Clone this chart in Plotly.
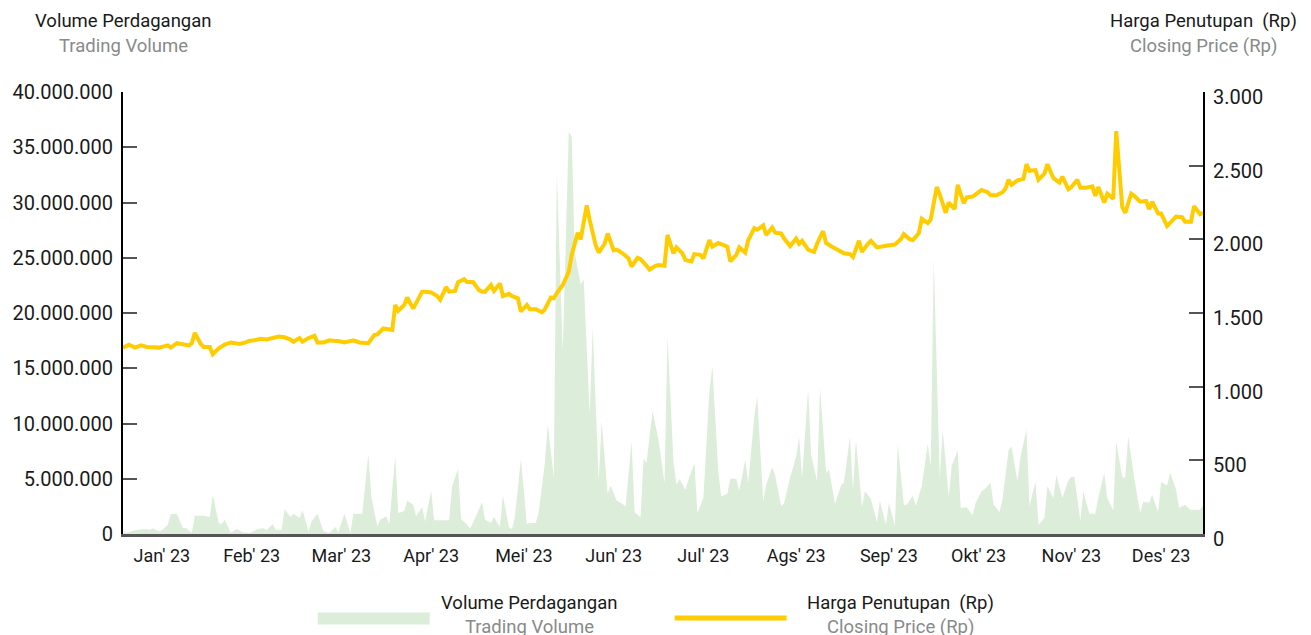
import plotly.graph_objects as go

# ---------------- data ----------------
price_dates = [
    "2023-01-02","2023-01-04","2023-01-06","2023-01-08","2023-01-10","2023-01-12","2023-01-14","2023-01-17",
    "2023-01-18","2023-01-20","2023-01-22","2023-01-24","2023-01-25","2023-01-26","2023-01-28","2023-01-29",
    "2023-01-31","2023-02-01","2023-02-03","2023-02-05","2023-02-07","2023-02-08","2023-02-10","2023-02-12",
    "2023-02-13","2023-02-15","2023-02-17","2023-02-19","2023-02-21","2023-02-23","2023-02-25","2023-02-27",
    "2023-02-28","2023-03-02","2023-03-03","2023-03-05","2023-03-07","2023-03-08","2023-03-10","2023-03-12",
    "2023-03-14","2023-03-15","2023-03-17","2023-03-20","2023-03-22","2023-03-25","2023-03-27","2023-03-28",
    "2023-03-30","2023-03-31","2023-04-02","2023-04-03","2023-04-04","2023-04-06","2023-04-07","2023-04-09",
    "2023-04-11","2023-04-12","2023-04-13","2023-04-15","2023-04-17","2023-04-18","2023-04-20","2023-04-21",
    "2023-04-23","2023-04-24","2023-04-26","2023-04-27","2023-04-29","2023-05-01","2023-05-02","2023-05-03",
    "2023-05-05","2023-05-06","2023-05-08","2023-05-09","2023-05-11","2023-05-12","2023-05-14","2023-05-15",
    "2023-05-17","2023-05-18","2023-05-20","2023-05-22","2023-05-23","2023-05-25","2023-05-26","2023-05-27",
    "2023-05-29","2023-05-31","2023-06-01","2023-06-03","2023-06-04","2023-06-06","2023-06-07","2023-06-09",
    "2023-06-10","2023-06-12","2023-06-13","2023-06-15","2023-06-16","2023-06-18","2023-06-20","2023-06-21",
    "2023-06-23","2023-06-24","2023-06-26","2023-06-27","2023-06-29","2023-06-30","2023-07-02","2023-07-03",
    "2023-07-05","2023-07-06","2023-07-08","2023-07-09","2023-07-11","2023-07-12","2023-07-14","2023-07-15",
    "2023-07-17","2023-07-18","2023-07-20","2023-07-22","2023-07-23","2023-07-24","2023-07-26","2023-07-27",
    "2023-07-29","2023-07-30","2023-08-01","2023-08-02","2023-08-04","2023-08-05","2023-08-07","2023-08-08",
    "2023-08-10","2023-08-11","2023-08-13","2023-08-15","2023-08-16","2023-08-17","2023-08-19","2023-08-21",
    "2023-08-22","2023-08-24","2023-08-25","2023-08-27","2023-08-28","2023-08-30","2023-08-31","2023-09-02",
    "2023-09-03","2023-09-05","2023-09-06","2023-09-08","2023-09-09","2023-09-11","2023-09-12","2023-09-14",
    "2023-09-15","2023-09-17","2023-09-19","2023-09-20","2023-09-22","2023-09-23","2023-09-25","2023-09-26",
    "2023-09-28","2023-09-29","2023-10-01","2023-10-02","2023-10-04","2023-10-05","2023-10-07","2023-10-08",
    "2023-10-10","2023-10-11","2023-10-13","2023-10-14","2023-10-16","2023-10-18","2023-10-19","2023-10-21",
    "2023-10-23","2023-10-24","2023-10-25","2023-10-26","2023-10-28","2023-10-30","2023-10-31","2023-11-01",
    "2023-11-03","2023-11-04","2023-11-06","2023-11-07","2023-11-09","2023-11-11","2023-11-12","2023-11-14",
    "2023-11-15","2023-11-17","2023-11-18","2023-11-20","2023-11-22","2023-11-23","2023-11-24","2023-11-26",
    "2023-11-27","2023-11-29","2023-11-30","2023-12-02","2023-12-03","2023-12-05","2023-12-06","2023-12-08",
    "2023-12-10","2023-12-11","2023-12-12","2023-12-14","2023-12-15","2023-12-17","2023-12-18","2023-12-20",
    "2023-12-22","2023-12-23","2023-12-25","2023-12-26","2023-12-28","2023-12-29",
]
price_values = [
    1265,1285,1265,1280,1270,1270,1265,1280,
    1265,1295,1285,1280,1295,1365,1290,1270,
    1270,1220,1260,1285,1300,1295,1290,1300,
    1310,1315,1325,1320,1330,1340,1335,1320,
    1305,1330,1305,1330,1345,1300,1300,1315,
    1310,1310,1300,1315,1300,1295,1350,1355,
    1395,1390,1385,1555,1515,1555,1605,1530,
    1600,1645,1645,1640,1615,1590,1675,1645,
    1650,1710,1730,1710,1710,1655,1645,1645,
    1690,1650,1700,1615,1630,1615,1600,1510,
    1555,1525,1525,1505,1525,1605,1600,1635,
    1690,1780,1895,2045,2000,2230,2130,1960,
    1910,1970,2040,1925,1930,1905,1870,1815,
    1875,1865,1820,1795,1820,1825,1820,2030,
    1905,1945,1905,1860,1850,1900,1895,1870,
    1995,1950,1975,1960,1950,1850,1895,1945,
    1910,1995,2075,2065,2095,2030,2080,2045,
    2040,2005,1955,2005,1970,1990,1930,1915,
    1970,2055,1975,1950,1940,1920,1905,1900,
    1880,1990,1915,1970,1990,1945,1950,1960,
    1960,1965,2000,2035,2000,1995,2040,2140,
    2110,2135,2355,2305,2180,2250,2205,2370,
    2245,2285,2290,2305,2335,2320,2300,2300,
    2320,2345,2405,2370,2400,2410,2510,2465,
    2470,2405,2445,2510,2415,2385,2425,2340,
    2355,2405,2350,2350,2360,2295,2355,2250,
    2310,2275,2735,2220,2180,2310,2295,2255,
    2260,2205,2255,2175,2175,2090,2110,2155,
    2150,2120,2120,2225,2170,2180,
]

volume_dates = [
    "2023-01-02","2023-01-04","2023-01-06","2023-01-08","2023-01-09","2023-01-11","2023-01-12","2023-01-14",
    "2023-01-15","2023-01-17","2023-01-18","2023-01-20","2023-01-22","2023-01-23","2023-01-25","2023-01-26",
    "2023-01-28","2023-01-29","2023-01-31","2023-02-01","2023-02-03","2023-02-04","2023-02-05","2023-02-07",
    "2023-02-09","2023-02-11","2023-02-13","2023-02-14","2023-02-16","2023-02-18","2023-02-19","2023-02-21",
    "2023-02-22","2023-02-24","2023-02-25","2023-02-27","2023-02-28","2023-03-02","2023-03-03","2023-03-05",
    "2023-03-06","2023-03-08","2023-03-10","2023-03-12","2023-03-14","2023-03-15","2023-03-17","2023-03-19",
    "2023-03-20","2023-03-23","2023-03-25","2023-03-26","2023-03-28","2023-03-29","2023-03-31","2023-04-01",
    "2023-04-03","2023-04-04","2023-04-06","2023-04-07","2023-04-09","2023-04-10","2023-04-12","2023-04-13",
    "2023-04-15","2023-04-16","2023-04-21","2023-04-22","2023-04-24","2023-04-25","2023-04-27","2023-04-28",
    "2023-04-30","2023-05-02","2023-05-03","2023-05-05","2023-05-06","2023-05-08","2023-05-09","2023-05-11",
    "2023-05-12","2023-05-13","2023-05-15","2023-05-17","2023-05-18","2023-05-20","2023-05-21","2023-05-23",
    "2023-05-24","2023-05-26","2023-05-27","2023-05-29","2023-05-31","2023-06-01","2023-06-02","2023-06-04",
    "2023-06-05","2023-06-07","2023-06-08","2023-06-10","2023-06-11","2023-06-13","2023-06-14","2023-06-16",
    "2023-06-18","2023-06-19","2023-06-21","2023-06-22","2023-06-24","2023-06-25","2023-06-26","2023-06-28",
    "2023-06-30","2023-07-02","2023-07-03","2023-07-05","2023-07-06","2023-07-07","2023-07-09","2023-07-10",
    "2023-07-12","2023-07-13","2023-07-15","2023-07-17","2023-07-18","2023-07-20","2023-07-21","2023-07-23",
    "2023-07-24","2023-07-26","2023-07-27","2023-07-29","2023-07-30","2023-08-01","2023-08-02","2023-08-04",
    "2023-08-05","2023-08-07","2023-08-08","2023-08-10","2023-08-11","2023-08-13","2023-08-15","2023-08-16",
    "2023-08-17","2023-08-19","2023-08-20","2023-08-22","2023-08-23","2023-08-25","2023-08-26","2023-08-28",
    "2023-08-30","2023-08-31","2023-09-02","2023-09-03","2023-09-04","2023-09-06","2023-09-07","2023-09-09",
    "2023-09-11","2023-09-12","2023-09-14","2023-09-15","2023-09-17","2023-09-18","2023-09-20","2023-09-21",
    "2023-09-23","2023-09-24","2023-09-26","2023-09-28","2023-09-29","2023-09-30","2023-10-02","2023-10-03",
    "2023-10-05","2023-10-06","2023-10-08","2023-10-09","2023-10-11","2023-10-13","2023-10-14","2023-10-16",
    "2023-10-17","2023-10-19","2023-10-20","2023-10-22","2023-10-23","2023-10-25","2023-10-26","2023-10-28",
    "2023-10-29","2023-10-31","2023-11-01","2023-11-03","2023-11-04","2023-11-06","2023-11-07","2023-11-09",
    "2023-11-10","2023-11-12","2023-11-14","2023-11-15","2023-11-16","2023-11-18","2023-11-19","2023-11-21",
    "2023-11-23","2023-11-24","2023-11-26","2023-11-27","2023-11-29","2023-11-30","2023-12-02","2023-12-03",
    "2023-12-04","2023-12-06","2023-12-08","2023-12-09","2023-12-11","2023-12-12","2023-12-14","2023-12-15",
    "2023-12-17","2023-12-18","2023-12-20","2023-12-21","2023-12-23","2023-12-25","2023-12-26","2023-12-28",
    "2023-12-29",
]
volume_values = [
    120000,150000,330000,390000,450000,390000,510000,240000,
    330000,840000,1810000,1840000,540000,540000,90000,1660000,
    1690000,1660000,1540000,3550000,990000,900000,1300000,90000,
    450000,150000,90000,150000,450000,510000,330000,900000,
    390000,330000,2260000,1510000,1840000,1450000,2140000,240000,
    1140000,1840000,240000,90000,630000,150000,1840000,90000,
    1840000,1840000,7230000,3400000,690000,1300000,1600000,900000,
    7110000,1900000,2050000,3040000,2650000,1600000,2440000,1140000,
    3920000,1240000,1240000,4310000,5900000,1360000,840000,480000,
    1600000,2890000,1300000,990000,1540000,630000,3490000,600000,
    450000,1540000,6780000,900000,990000,990000,2050000,6420000,
    9880000,5120000,32800000,16500000,36400000,35900000,25400000,22600000,
    23000000,10800000,18700000,4850000,10200000,3610000,4370000,3040000,
    2710000,2500000,8370000,1960000,1510000,6810000,6420000,11100000,
    8530000,4610000,17900000,6570000,4460000,4970000,4010000,4910000,
    6420000,1900000,3250000,12900000,15200000,5510000,3400000,3650000,
    5000000,5000000,3920000,6720000,4610000,10600000,12400000,2950000,
    4460000,6030000,5270000,2500000,2800000,5120000,7020000,8830000,
    5060000,13100000,7170000,4760000,13300000,5510000,5810000,2710000,
    4400000,4670000,8830000,4010000,8530000,2410000,3860000,3160000,
    1050000,3010000,840000,2800000,750000,8070000,2650000,2650000,
    3460000,2560000,4310000,8160000,6120000,24900000,5060000,9430000,
    3400000,6180000,7560000,2350000,2410000,1690000,2800000,3860000,
    4070000,4610000,2650000,1990000,3160000,7560000,7920000,4760000,
    7020000,9430000,2500000,4760000,840000,1450000,4310000,3250000,
    5360000,3250000,4850000,5150000,5150000,1210000,3860000,1840000,
    1840000,3250000,5510000,3250000,2140000,8310000,5150000,5060000,
    8830000,5060000,1900000,2890000,2860000,3550000,1990000,4700000,
    4400000,5570000,4010000,2350000,2650000,2140000,2200000,2200000,
    2590000,
]

month_tick_dates = [
    "2023-01-15","2023-02-14","2023-03-16","2023-04-15","2023-05-16","2023-06-15",
    "2023-07-15","2023-08-15","2023-09-15","2023-10-15","2023-11-15","2023-12-15",
]
month_tick_labels = [
    "Jan' 23","Feb' 23","Mar' 23","Apr' 23","Mei' 23","Jun' 23",
    "Jul' 23","Ags' 23","Sep' 23","Okt' 23","Nov' 23","Des' 23",
]

volume_name = "Volume Perdagangan"
volume_name_en = "Trading Volume"
price_name = "Harga Penutupan\u00a0 (Rp)"
price_name_en = "Closing Price (Rp)"

# ---------------- styling ----------------
GREEN = "#DCEDDA"
GOLD = "#FFCC00"
DARK = "#1a1a1a"
GREY_TXT = "#8a8a8a"
FONT = "Roboto"

fig = go.Figure()
fig.add_trace(go.Scatter(
    x=volume_dates, y=volume_values, name=volume_name, mode="lines",
    fill="tozeroy", fillcolor=GREEN, line=dict(width=0, color=GREEN),
    yaxis="y", showlegend=False,
))
fig.add_trace(go.Scatter(
    x=price_dates, y=price_values, name=price_name, mode="lines",
    line=dict(width=4, color=GOLD), yaxis="y2", showlegend=False,
))

fig.update_layout(
    width=1311, height=635,
    margin=dict(l=115, r=116, t=84, b=109, autoexpand=False),
    paper_bgcolor="white", plot_bgcolor="white",
    font=dict(family=FONT, size=18, color=DARK),
    separators=",.",
    xaxis=dict(
        type="date", range=["2023-01-02", "2023-12-29"], automargin=False,
        tickmode="array", tickvals=month_tick_dates, ticktext=month_tick_labels,
        showgrid=False, zeroline=False, showline=True, linecolor="#555555", linewidth=2.5,
        ticks="", tickfont=dict(size=18, color=DARK), ticklabelstandoff=4,
    ),
    yaxis=dict(
        range=[0, 40000000], dtick=5000000, tickformat=",d", automargin=False,
        showgrid=False, zeroline=False, showline=True, linecolor="black", linewidth=2,
        ticks="inside", ticklen=14, tickwidth=2, tickcolor="#555555",
        tickfont=dict(size=20, color=DARK), ticklabelstandoff=4,
    ),
    yaxis2=dict(
        range=[0, 3000], dtick=500, tickformat=",d", overlaying="y", side="right", automargin=False,
        showgrid=False, zeroline=False, showline=True, linecolor="black", linewidth=2,
        ticks="inside", ticklen=14, tickwidth=2, tickcolor="#555555",
        tickfont=dict(size=20, color=DARK), ticklabelstandoff=4, ticklabelshift=5,
    ),
    showlegend=False,
)

# axis titles (two-language, centered above each axis)
titles = [
    (0.0, 1.1597, volume_name, DARK),
    (0.0, 1.1033, volume_name_en, GREY_TXT),
    (1.0, 1.1597, price_name, DARK),
    (1.0, 1.1033, price_name_en, GREY_TXT),
]
for x, y, t, c in titles:
    fig.add_annotation(x=x, y=y, xref="paper", yref="paper", text=t, showarrow=False,
                       xanchor="center", yanchor="middle", font=dict(size=18.5, color=c, family=FONT))

# custom legend at bottom
legend_txt = [
    (0.3766, -0.1552, volume_name, DARK),
    (0.3766, -0.2094, volume_name_en, GREY_TXT),
    (0.7201, -0.1552, price_name, DARK),
    (0.7201, -0.2094, price_name_en, GREY_TXT),
]
for x, y, t, c in legend_txt:
    fig.add_annotation(x=x, y=y, xref="paper", yref="paper", text=t, showarrow=False,
                       xanchor="center", yanchor="middle", font=dict(size=18.5, color=c, family=FONT))

fig.add_shape(type="rect", xref="paper", yref="paper", x0=0.1803, x1=0.2840, y0=-0.2049, y1=-0.1778,
              fillcolor=GREEN, line=dict(width=0))
fig.add_shape(type="line", xref="paper", yref="paper", x0=0.5108, x1=0.6145, y0=-0.1902, y1=-0.1902,
              line=dict(color=GOLD, width=5))

fig.write_html("out.html")
